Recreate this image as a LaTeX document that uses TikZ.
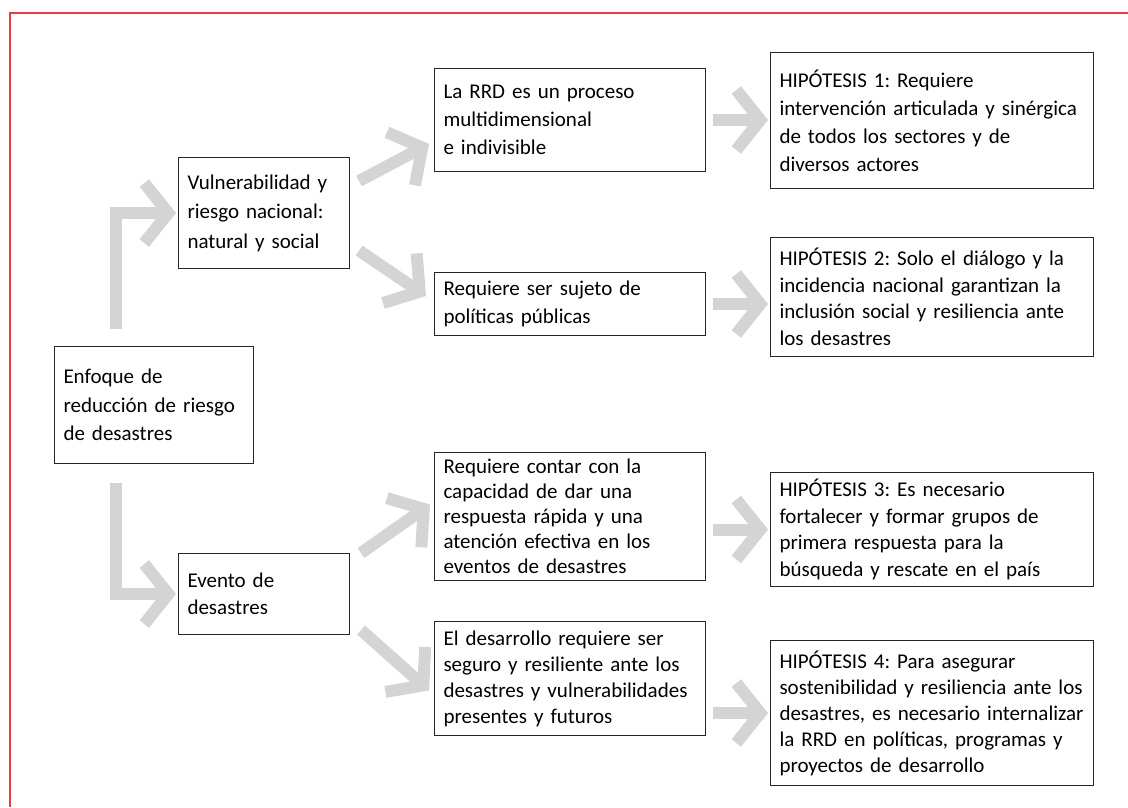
\documentclass[tikz,border=0pt]{standalone}
\usepackage{fontspec}
\setmainfont{Carlito}
\usetikzlibrary{arrows.meta,calc}
\definecolor{grisflecha}{RGB}{212,212,212}
\definecolor{rojomarco}{RGB}{232,60,68}
\tikzset{
  caja/.style={draw=black!85, line width=1pt, anchor=north west, align=left,
    inner xsep=9pt, inner ysep=0pt,
    font=\fontsize{21}{#1}\selectfont\frenchspacing},
  caja/.default=28,
  flechagris/.style={draw=grisflecha, line width=12pt, line join=miter,
    -{Straight Barb[length=24pt, width=60pt]}}
}

\begin{document}
\begin{tikzpicture}[x=1pt, y=-1pt]
  \useasboundingbox (0,0) rectangle (1128,807);
  % Marco
  \draw[rojomarco, line width=2pt] (1128,13) -- (10,13) -- (10,807);

  % Columna izquierda
  \node[caja=28.5, text width=181pt, minimum height=117pt] (enfoque) at (54,346)
    {Enfoque de\\reducción de riesgo\\de desastres};
  \node[caja=29.5, text width=153pt, minimum height=111pt] (vulner) at (178,157)
    {Vulnerabilidad y\\riesgo nacional:\\natural y social};
  \node[caja=27, text width=153pt, minimum height=81pt] (evento) at (178,553)
    {Evento de\\desastres};

  % Columna central
  \node[caja, text width=253pt, minimum height=103pt] (rrd) at (434,68)
    {La RRD es un proceso\\multidimensional\\e indivisible};
  \node[caja, text width=253pt, minimum height=63pt] (sujeto) at (434,272)
    {Requiere ser sujeto de\\políticas públicas};
  \node[caja=25, text width=253pt, minimum height=128pt] (contar) at (434,452)
    {Requiere contar con la\\capacidad de dar una\\respuesta rápida y una\\atención efectiva en los\\eventos de desastres};
  \node[caja=26, text width=253pt, minimum height=114pt] (desarrollo) at (434,621)
    {El desarrollo requiere ser\\seguro y resiliente ante los\\desastres y vulnerabilidades\\presentes y futuros};

  % Hipotesis
  \node[caja, text width=305pt, minimum height=136pt] (hip1) at (770,52)
    {HIPÓTESIS 1: Requiere\\intervención articulada y sinérgica\\de todos los sectores y de\\diversos actores};
  \node[caja=26.5, text width=305pt, minimum height=119pt] (hip2) at (770,237)
    {HIPÓTESIS 2: Solo el diálogo y la\\incidencia nacional garantizan la\\inclusión social y resiliencia ante\\los desastres};
  \node[caja=26.5, text width=305pt, minimum height=114pt] (hip3) at (770,472)
    {HIPÓTESIS 3: Es necesario\\fortalecer y formar grupos de\\primera respuesta para la\\búsqueda y rescate en el país};
  \node[caja=26, text width=305pt, minimum height=145pt] (hip4) at (770,640)
    {HIPÓTESIS 4: Para asegurar\\sostenibilidad y resiliencia ante los\\desastres, es necesario internalizar\\la RRD en políticas, programas y\\proyectos de desarrollo};

  % Flechas en codo
  \draw[flechagris, shorten >=2pt] ($(enfoque.north west)+(62,-17)$) |- (vulner.west);
  \draw[flechagris, shorten >=2pt] ($(enfoque.south west)+(62,19)$) |- (evento.west);

  % Flechas diagonales
  \draw[flechagris] ($(vulner.east)+(9,-32)$) -- ($(rrd.west)+(-5,24)$);
  \draw[flechagris] ($(vulner.east)+(9,37.5)$) -- ($(sujeto.west)+(-8,-8)$);
  \draw[flechagris] ($(evento.east)+(11,-41)$) -- ($(contar.west)+(-4,-12)$);
  \draw[flechagris] ($(evento.east)+(11,36)$) -- ($(desarrollo.west)+(-5,12)$);

  % Flechas hacia las hipotesis
  \draw[flechagris, shorten <=7pt, shorten >=2pt] (rrd.east) -- (rrd.east -| hip1.west);
  \draw[flechagris, shorten <=7pt, shorten >=2pt] (sujeto.east) -- (sujeto.east -| hip2.west);
  \draw[flechagris, shorten <=7pt, shorten >=2pt] (hip3.west -| contar.east) -- (hip3.west);
  \draw[flechagris, shorten <=7pt, shorten >=2pt] (hip4.west -| desarrollo.east) -- (hip4.west);
\end{tikzpicture}
\end{document}
